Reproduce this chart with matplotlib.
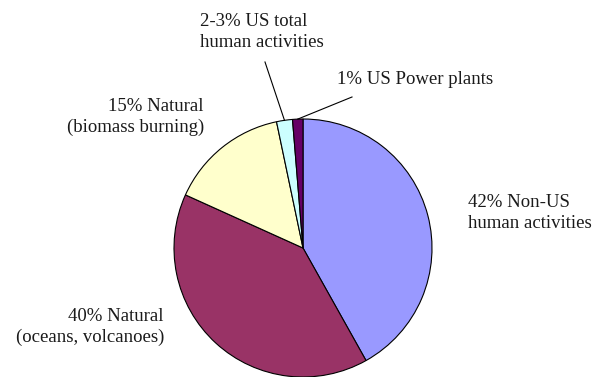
import numpy as np
import matplotlib
matplotlib.use('Agg')
import matplotlib.pyplot as plt

# slices clockwise from 12 o'clock
labels = ['42% Non-US\nhuman activities',
          '40% Natural\n(oceans, volcanoes)',
          '15% Natural\n(biomass burning)',
          '2-3% US total\nhuman activities',
          '1% US Power plants']
shares = [42, 40, 15, 2, 1.3]
colors = ['#9999FF', '#993366', '#FFFFCC', '#CCFFFF', '#660066']

W, H = 596, 377
fig = plt.figure(figsize=(W / 100, H / 100), dpi=100)
ax = fig.add_axes([0, 0, 1, 1])

cx, cy, r = 303, H - 248, 129
wedges, _ = ax.pie(shares, colors=colors, startangle=90, counterclock=False,
                   center=(cx, cy), radius=r, frame=True,
                   wedgeprops={'edgecolor': 'black', 'linewidth': 0.8})
ax.set_xlim(0, W)
ax.set_ylim(0, H)
ax.set_aspect('equal')
ax.axis('off')

font = {'family': 'Liberation Serif', 'size': 13.5, 'linespacing': 1.3}

# label anchor points (pixels from top-left), alignment
spots = [
    (468, 213, 'left'),
    (164, 327, 'right'),
    (204, 117, 'right'),
    (200, 32, 'left'),
    (337, 79, 'left'),
]
for lab, (x, y, ha) in zip(labels, spots):
    ax.text(x, H - y, lab, ha=ha, va='center', color='#1a1a1a', **font)

# leader lines for the two thin slices
ends = {3: (265, 62), 4: (352, 97)}
for i, (ex, ey) in ends.items():
    w = wedges[i]
    ang = np.deg2rad((w.theta1 + w.theta2) / 2)
    px = cx + r * np.cos(ang)
    py = cy + r * np.sin(ang)
    ax.plot([px, ex], [py, H - ey], color='black', lw=0.8)

plt.savefig('out.png', dpi=100)
plt.close()
